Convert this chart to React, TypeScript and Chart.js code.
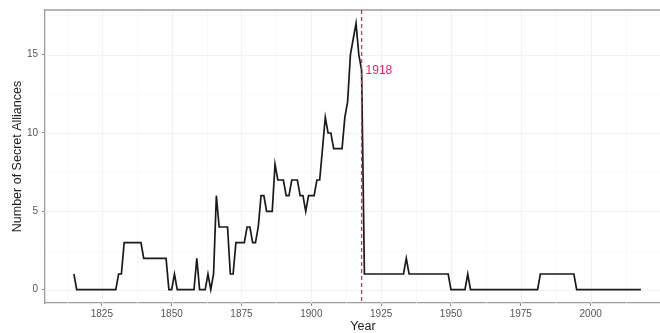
import React, { useEffect, useRef } from "react";
import { Chart, registerables } from "chart.js";

Chart.register(...registerables);

// Yearly count of secret alliances, one value per year starting at firstYear.
const firstYear = 1815;
const alliances = [
  // 1815-1830
  1, 0, 0, 0, 0, 0, 0, 0, 0, 0, 0, 0, 0, 0, 0, 0,
  // 1831-1848
  1, 1, 3, 3, 3, 3, 3, 3, 3, 2, 2, 2, 2, 2, 2, 2, 2, 2,
  // 1849-1866
  0, 0, 1, 0, 0, 0, 0, 0, 0, 0, 2, 0, 0, 0, 1, 0, 1, 6,
  // 1867-1886
  4, 4, 4, 4, 1, 1, 3, 3, 3, 3, 4, 4, 3, 3, 4, 6, 6, 5, 5, 5,
  // 1887-1903
  8, 7, 7, 7, 6, 6, 7, 7, 7, 6, 6, 5, 6, 6, 6, 7, 7,
  // 1904-1918
  9, 11, 10, 10, 9, 9, 9, 9, 11, 12, 15, 16, 17, 15, 14,
  // 1919-1949
  1, 1, 1, 1, 1, 1, 1, 1, 1, 1, 1, 1, 1, 1, 1, 2,
  1, 1, 1, 1, 1, 1, 1, 1, 1, 1, 1, 1, 1, 1, 1,
  // 1950-1981
  0, 0, 0, 0, 0, 0, 1, 0, 0, 0, 0, 0, 0, 0, 0, 0,
  0, 0, 0, 0, 0, 0, 0, 0, 0, 0, 0, 0, 0, 0, 0, 0,
  // 1982-1994
  1, 1, 1, 1, 1, 1, 1, 1, 1, 1, 1, 1, 1,
  // 1995-2018
  0, 0, 0, 0, 0, 0, 0, 0, 0, 0, 0, 0, 0, 0, 0, 0, 0, 0, 0, 0, 0, 0, 0, 0,
];

const yearTicks = [1825, 1850, 1875, 1900, 1925, 1950, 1975, 2000];
const yearMinor = [1812.5, 1837.5, 1862.5, 1887.5, 1912.5, 1937.5, 1962.5, 1987.5, 2012.5];
const countTicks = [0, 5, 10, 15];
const countMinor = [2.5, 7.5, 12.5, 17.5];
const markerYear = 1918;
const markerLabel = "1918";
const xTitle = "Year";
const yTitle = "Number of Secret Alliances";

const FONT = '"Liberation Sans", Arial, Helvetica, sans-serif';
const ACCENT = "#e3246a";
const FRAME = "#9c9c9c";

const panelPlugin = {
  id: "panel",
  beforeDatasetsDraw(chart: any) {
    const { ctx, chartArea: a, scales } = chart;
    const xs = scales.x;
    const ys = scales.y;
    ctx.save();
    ctx.beginPath();
    ctx.rect(a.left, a.top, a.right - a.left, a.bottom - a.top);
    ctx.clip();
    const vline = (v: number, color: string, w: number) => {
      const px = Math.round(xs.getPixelForValue(v)) + 0.5;
      ctx.strokeStyle = color;
      ctx.lineWidth = w;
      ctx.beginPath();
      ctx.moveTo(px, a.top);
      ctx.lineTo(px, a.bottom);
      ctx.stroke();
    };
    const hline = (v: number, color: string, w: number) => {
      const py = Math.round(ys.getPixelForValue(v)) + 0.5;
      ctx.strokeStyle = color;
      ctx.lineWidth = w;
      ctx.beginPath();
      ctx.moveTo(a.left, py);
      ctx.lineTo(a.right, py);
      ctx.stroke();
    };
    yearMinor.forEach((v) => vline(v, "#f8f8f8", 0.8));
    countMinor.forEach((v) => hline(v, "#f8f8f8", 0.8));
    yearTicks.forEach((v) => vline(v, "#f2f2f2", 1.2));
    countTicks.forEach((v) => hline(v, "#f2f2f2", 1.2));
    ctx.restore();
  },
  afterDatasetsDraw(chart: any) {
    const { ctx, chartArea: a, scales } = chart;
    const xs = scales.x;
    ctx.save();
    // frame top edge
    ctx.strokeStyle = FRAME;
    ctx.lineWidth = 1.3;
    ctx.beginPath();
    ctx.moveTo(a.left, a.top);
    ctx.lineTo(a.right, a.top);
    ctx.stroke();

    // reference year marker
    const mx = xs.getPixelForValue(markerYear);
    ctx.strokeStyle = ACCENT;
    ctx.lineWidth = 1.3;
    ctx.setLineDash([4, 3]);
    ctx.beginPath();
    ctx.moveTo(mx, a.top);
    ctx.lineTo(mx, a.bottom);
    ctx.stroke();
    ctx.setLineDash([]);

    ctx.fillStyle = ACCENT;
    ctx.font = `12px ${FONT}`;
    ctx.textAlign = "left";
    ctx.textBaseline = "middle";
    ctx.fillText(markerLabel, mx + 4, 71);

    // axis titles
    ctx.fillStyle = "#1e1e1e";
    ctx.font = `12.5px ${FONT}`;
    ctx.textAlign = "center";
    ctx.fillText(xTitle, (a.left + a.right) / 2, 327);
    ctx.translate(18, (a.top + a.bottom) / 2);
    ctx.rotate(-Math.PI / 2);
    ctx.fillText(yTitle, 0, 0);
    ctx.restore();
  },
};

export default function App() {
  const canvasRef = useRef<HTMLCanvasElement | null>(null);

  useEffect(() => {
    const canvas = canvasRef.current;
    if (!canvas) return;
    const points = alliances.map((v, i) => ({ x: firstYear + i, y: v }));
    const tickFont = { family: FONT, size: 10 };

    const chart = new Chart(canvas, {
      type: "line",
      data: {
        datasets: [
          {
            data: points,
            borderColor: "#1a1a1a",
            borderWidth: 1.7,
            pointRadius: 0,
            tension: 0,
            fill: false,
          },
        ],
      },
      options: {
        responsive: false,
        animation: false,
        devicePixelRatio: 1,
        layout: { padding: { top: 10, right: 19, bottom: 0, left: 0 } },
        plugins: {
          legend: { display: false },
          tooltip: { enabled: false },
        },
        scales: {
          x: {
            type: "linear",
            min: 1804.65,
            max: 2032.35,
            afterFit: (s: any) => {
              s.height = 42;
            },
            afterBuildTicks: (s: any) => {
              s.ticks = yearTicks.map((v) => ({ value: v }));
            },
            grid: {
              drawOnChartArea: false,
              drawTicks: true,
              tickLength: 3,
              tickColor: "#8a8a8a",
              tickWidth: 1,
            },
            border: { display: true, color: FRAME, width: 1.3 },
            ticks: {
              font: tickFont,
              color: "#555555",
              padding: 2,
              maxRotation: 0,
              autoSkip: false,
              callback: (v: any) => String(v),
            },
          },
          y: {
            type: "linear",
            min: -0.85,
            max: 17.85,
            afterFit: (s: any) => {
              s.width = 45;
            },
            afterBuildTicks: (s: any) => {
              s.ticks = countTicks.map((v) => ({ value: v }));
            },
            grid: {
              drawOnChartArea: false,
              drawTicks: true,
              tickLength: 3,
              tickColor: "#8a8a8a",
              tickWidth: 1,
            },
            border: { display: true, color: FRAME, width: 1.3 },
            ticks: {
              font: tickFont,
              color: "#555555",
              padding: 4,
              callback: (v: any) => String(v),
            },
          },
        },
      },
      plugins: [panelPlugin],
    });

    return () => chart.destroy();
  }, []);

  return (
    <div
      style={{
        position: "fixed",
        left: 0,
        top: 0,
        width: 660,
        height: 333,
        overflow: "hidden",
        background: "#ffffff",
      }}
    >
      <canvas ref={canvasRef} width={700} height={345} style={{ display: "block" }} />
    </div>
  );
}
